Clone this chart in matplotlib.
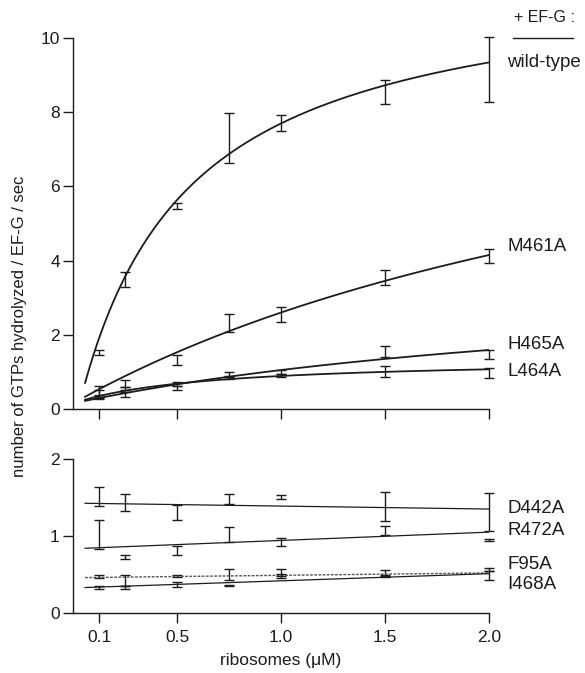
import numpy as np
import matplotlib
matplotlib.use("Agg")
import matplotlib.pyplot as plt
from matplotlib.lines import Line2D

plt.rcParams["font.family"] = ["Liberation Sans", "DejaVu Sans"]

# ribosome concentrations (uM)
conc = [0.125, 0.25, 0.5, 0.75, 1.0, 1.5, 2.0]
tick_pos = [0.125, 0.5, 1.0, 1.5, 2.0]
tick_lab = ["0.1", "0.5", "1.0", "1.5", "2.0"]

# top panel: mean rate and error
wt_mean = [1.52, 3.50, 5.46, 7.30, 7.71, 8.54, 9.15]
wt_err = [0.07, 0.20, 0.08, 0.68, 0.21, 0.33, 0.87]
m461_mean = [0.47, 0.68, 1.32, 2.32, 2.54, 3.54, 4.12]
m461_err = [0.15, 0.10, 0.135, 0.24, 0.20, 0.195, 0.19]
h465_mean = [0.40, 0.55, 0.68, 0.94, 1.00, 1.54, 1.47]
h465_err = [0.10, 0.05, 0.06, 0.065, 0.06, 0.145, 0.12]
l464_mean = [0.33, 0.40, 0.57, 0.85, 0.90, 1.02, 0.97]
l464_err = [0.06, 0.07, 0.06, 0.03, 0.05, 0.145, 0.135]

# hyperbolic fits: (vmax, km, x0, baseline)
wt_fit = [11.8, 0.52, 0.025, 0.0]
m461_fit = [10.9, 3.45, 0.0, 0.15]
h465_fit = [3.6, 3.0, 0.0, 0.15]
l464_fit = [1.215, 0.642, 0.0, 0.15]

# bottom panel
d442_mean = [1.51, 1.44, 1.305, 1.48, 1.505, 1.38, 1.31]
d442_err = [0.12, 0.11, 0.095, 0.065, 0.025, 0.19, 0.25]
r472_mean = [1.02, 0.725, 0.81, 1.02, 0.92, 1.07, 0.95]
r472_err = [0.19, 0.03, 0.06, 0.10, 0.05, 0.06, 0.01]
f95_mean = [0.47, 0.42, 0.48, 0.50, 0.52, 0.52, 0.565]
f95_err = [0.02, 0.07, 0.015, 0.07, 0.045, 0.04, 0.015]
i468_mean = [0.33, 0.33, 0.37, 0.355, 0.48, 0.48, 0.49]
i468_err = [0.02, 0.02, 0.03, 0.01, 0.02, 0.01, 0.06]

# linear fits: (intercept, slope)
d442_fit = [1.427, -0.0386]
r472_fit = [0.834, 0.108]
f95_fit = [0.458, 0.031]
i468_fit = [0.325, 0.0927]

fit_start = 0.058
ink = "#1c1c1c"


def hyper(x, p):
    vmax, km, x0, b = p
    return b + vmax * (x - x0) / (km + x - x0)


def style(ax, ymax, yticks, labels=True):
    ax.set_xlim(0, 2.0)
    ax.set_ylim(0, ymax)
    for s in ["top", "right"]:
        ax.spines[s].set_visible(False)
    for s in ["left", "bottom"]:
        ax.spines[s].set_linewidth(1.0)
        ax.spines[s].set_color(ink)
    ax.set_yticks(yticks)
    ax.set_xticks(tick_pos)
    if labels:
        ax.set_xticklabels(tick_lab)
    else:
        ax.set_xticklabels([])
    ax.tick_params(direction="out", length=7.5, width=1.0, color=ink,
                   labelsize=12.5, labelcolor=ink)
    ax.tick_params(axis="y", pad=2)
    ax.tick_params(axis="x", pad=5)


def bars(ax, mean, err):
    eb = ax.errorbar(conc, mean, yerr=err, fmt="none", ecolor=ink,
                     elinewidth=1.0, capsize=3.8, capthick=1.0)
    for a in eb.get_children():
        a.set_clip_on(False)


fig = plt.figure(figsize=(5.85, 6.73), dpi=100)
ax1 = fig.add_axes([0.1248, 0.3923, 0.7111, 0.5513])
ax2 = fig.add_axes([0.1248, 0.0892, 0.7111, 0.2288])

xs = np.linspace(fit_start, 2.0, 300)

# top panel
for mean, err, p in [(wt_mean, wt_err, wt_fit), (m461_mean, m461_err, m461_fit),
                     (h465_mean, h465_err, h465_fit), (l464_mean, l464_err, l464_fit)]:
    bars(ax1, mean, err)
    ax1.plot(xs, hyper(xs, p), color=ink, lw=1.3)

style(ax1, 10, [0, 2, 4, 6, 8, 10], labels=False)

top_labels = [("wild-type", 9.33), ("M461A", 4.37), ("H465A", 1.75), ("L464A", 1.0)]
for name, y in top_labels:
    ax1.text(2.087, y, name, fontsize=13.5, color=ink, va="center", ha="left",
             clip_on=False)

# bottom panel
lines_b = [(d442_mean, d442_err, d442_fit, "-"), (r472_mean, r472_err, r472_fit, "-"),
           (f95_mean, f95_err, f95_fit, "--"), (i468_mean, i468_err, i468_fit, "-")]
for mean, err, p, ls in lines_b:
    bars(ax2, mean, err)
    xl = np.array([fit_start, 2.0])
    if ls == "--":
        ax2.plot(xl, p[0] + p[1] * xl, color="#555555", lw=1.0,
                 linestyle=(0, (2, 1)))
    else:
        ax2.plot(xl, p[0] + p[1] * xl, color=ink, lw=0.9)

style(ax2, 2, [0, 1, 2])

bot_labels = [("D442A", 1.36), ("R472A", 1.065), ("F95A", 0.636), ("I468A", 0.364)]
for name, y in bot_labels:
    ax2.text(2.087, y, name, fontsize=13.5, color=ink, va="center", ha="left",
             clip_on=False)

# legend header
fig.text(544 / 585, 1 - 18 / 673, "+ EF-G :", fontsize=11.5, color=ink,
         ha="center", va="center")
fig.add_artist(Line2D([513 / 585, 573 / 585], [1 - 37.7 / 673, 1 - 37.7 / 673],
                      transform=fig.transFigure, color=ink, lw=1.0))

fig.text(20 / 585, 1 - 326 / 673, "number of GTPs hydrolyzed / EF-G / sec",
         rotation=90, fontsize=12, color=ink, ha="center", va="center")
fig.text(281 / 585, 1 - 661 / 673, "ribosomes (\u03bcM)", fontsize=12.5,
         color=ink, ha="center", va="center")

fig.savefig("out.png", dpi=100)
